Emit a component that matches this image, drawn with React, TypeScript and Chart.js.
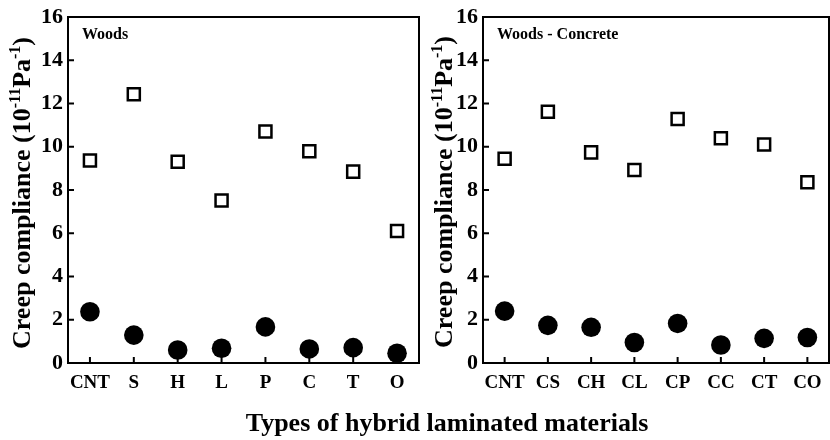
import React, { useEffect, useRef } from "react";
import { Chart, registerables } from "chart.js";

Chart.register(...registerables);

// ---------- data ----------
const woodsCategories = ["CNT", "S", "H", "L", "P", "C", "T", "O"];
const concreteCategories = ["CNT", "CS", "CH", "CL", "CP", "CC", "CT", "CO"];

const woodsOpen = [9.36, 12.43, 9.31, 7.51, 10.71, 9.79, 8.85, 6.1];
const woodsFilled = [2.37, 1.29, 0.6, 0.68, 1.67, 0.65, 0.71, 0.45];

const concreteOpen = [9.44, 11.62, 9.74, 8.93, 11.28, 10.39, 10.1, 8.36];
const concreteFilled = [2.4, 1.74, 1.65, 0.95, 1.83, 0.83, 1.14, 1.18];

const yMin = 0;
const yMax = 16;
const yStep = 2;

const woodsLabel = "Woods";
const concreteLabel = "Woods - Concrete";
const xTitle = "Types of hybrid laminated materials";
const yTitleParts: { text: string; sup: boolean }[] = [
  { text: "Creep compliance (10", sup: false },
  { text: "-11", sup: true },
  { text: "Pa", sup: false },
  { text: "-1", sup: true },
  { text: ")", sup: false },
];

const FONT = '"Liberation Serif", "Times New Roman", serif';

type PanelCfg = {
  categories: string[];
  open: number[];
  filled: number[];
  label: string;
  yAxisWidth: number;
  padRight: number;
  titleBaseX: number;
  titleCenterY: number;
};

const framePlugin = {
  id: "frame",
  afterDraw(chart: any, _args: any, opts: any) {
    const ctx = chart.ctx as CanvasRenderingContext2D;
    const { left, right, top, bottom } = chart.chartArea;
    ctx.save();
    ctx.strokeStyle = "#000";
    ctx.lineWidth = 2;
    ctx.strokeRect(left, top, right - left, bottom - top);

    // inner ticks
    const xs = chart.scales.x;
    const ys = chart.scales.y;
    ctx.beginPath();
    for (let i = 0; i < xs.ticks.length; i++) {
      const px = xs.getPixelForTick(i);
      ctx.moveTo(px, bottom);
      ctx.lineTo(px, bottom - 6);
    }
    for (let i = 0; i < ys.ticks.length; i++) {
      const py = ys.getPixelForTick(i);
      ctx.moveTo(left, py);
      ctx.lineTo(left + 6, py);
    }
    ctx.stroke();

    // panel label
    ctx.fillStyle = "#000";
    ctx.font = `bold 16px ${FONT}`;
    ctx.textBaseline = "alphabetic";
    ctx.textAlign = "left";
    ctx.fillText(opts.label, left + 14, top + 22);

    // y title with superscripts
    const mainFont = `bold 26px ${FONT}`;
    const supFont = `bold 16px ${FONT}`;
    let total = 0;
    const widths = yTitleParts.map((p) => {
      ctx.font = p.sup ? supFont : mainFont;
      const w = ctx.measureText(p.text).width;
      total += w;
      return w;
    });
    ctx.translate(opts.titleBaseX, opts.titleCenterY);
    ctx.rotate(-Math.PI / 2);
    let x = -total / 2;
    yTitleParts.forEach((p, i) => {
      ctx.font = p.sup ? supFont : mainFont;
      ctx.fillText(p.text, x, p.sup ? -10 : 0);
      x += widths[i];
    });
    ctx.restore();
  },
};

function makeChart(canvas: HTMLCanvasElement, cfg: PanelCfg) {
  return new Chart(canvas, {
    type: "line",
    data: {
      labels: cfg.categories,
      datasets: [
        {
          data: cfg.open,
          showLine: false,
          pointStyle: "rect",
          pointRadius: 8.5,
          pointBorderWidth: 2.5,
          pointBorderColor: "#000",
          pointBackgroundColor: "#fff",
          borderColor: "#000",
          backgroundColor: "#fff",
          clip: false as any,
        },
        {
          data: cfg.filled,
          showLine: false,
          pointStyle: "circle",
          pointRadius: 9.8,
          pointBorderWidth: 0,
          pointBorderColor: "#000",
          pointBackgroundColor: "#000",
          borderColor: "#000",
          backgroundColor: "#000",
          clip: false as any,
        },
      ],
    },
    options: {
      responsive: false,
      animation: false,
      events: [],
      layout: { padding: { top: 17, right: cfg.padRight, left: 0, bottom: 0 } },
      plugins: {
        legend: { display: false },
        tooltip: { enabled: false },
        frame: {
          label: cfg.label,
          titleBaseX: cfg.titleBaseX,
          titleCenterY: cfg.titleCenterY,
        },
      } as any,
      scales: {
        x: {
          type: "category",
          offset: true,
          grid: { display: false, drawTicks: false, offset: false },
          border: { display: false },
          ticks: {
            color: "#000",
            padding: 9,
            maxRotation: 0,
            autoSkip: false,
            font: { family: FONT, size: 19, weight: "bold" },
          },
          afterFit: (s: any) => {
            s.height = 77;
            s.paddingLeft = 0;
            s.paddingRight = 0;
          },
        },
        y: {
          min: yMin,
          max: yMax,
          grid: { display: false, drawTicks: false },
          border: { display: false },
          ticks: {
            stepSize: yStep,
            color: "#000",
            padding: 5,
            font: { family: FONT, size: 22, weight: "bold" },
          },
          afterFit: (s: any) => {
            s.width = cfg.yAxisWidth;
            s.paddingTop = 0;
            s.paddingBottom = 0;
          },
        },
      },
    },
    plugins: [framePlugin as any],
  });
}

function Panel(props: { left: number; width: number; cfg: PanelCfg }) {
  const ref = useRef<HTMLCanvasElement | null>(null);
  useEffect(() => {
    if (!ref.current) return;
    const chart = makeChart(ref.current, props.cfg);
    return () => chart.destroy();
  }, []);
  return (
    <canvas
      ref={ref}
      width={props.width}
      height={440}
      style={{
        position: "absolute",
        left: props.left,
        top: 0,
        width: props.width,
        height: 440,
      }}
    />
  );
}

export default function App() {
  return (
    <div
      style={{
        position: "fixed",
        left: 0,
        top: 0,
        width: 830,
        height: 440,
        background: "#fff",
        overflow: "hidden",
      }}
    >
      <Panel
        left={0}
        width={430}
        cfg={{
          categories: woodsCategories,
          open: woodsOpen,
          filled: woodsFilled,
          label: woodsLabel,
          yAxisWidth: 68,
          padRight: 0,
          titleBaseX: 30,
          titleCenterY: 193,
        }}
      />
      <Panel
        left={430}
        width={410}
        cfg={{
          categories: concreteCategories,
          open: concreteOpen,
          filled: concreteFilled,
          label: concreteLabel,
          yAxisWidth: 53,
          padRight: 0,
          titleBaseX: 22,
          titleCenterY: 192,
        }}
      />
      <div
        style={{
          position: "absolute",
          left: 47,
          width: 800,
          top: 410,
          lineHeight: "26px",
          textAlign: "center",
          fontFamily: FONT,
          fontWeight: "bold",
          fontSize: 26,
          color: "#000",
          whiteSpace: "nowrap",
        }}
      >
        {xTitle}
      </div>
    </div>
  );
}
